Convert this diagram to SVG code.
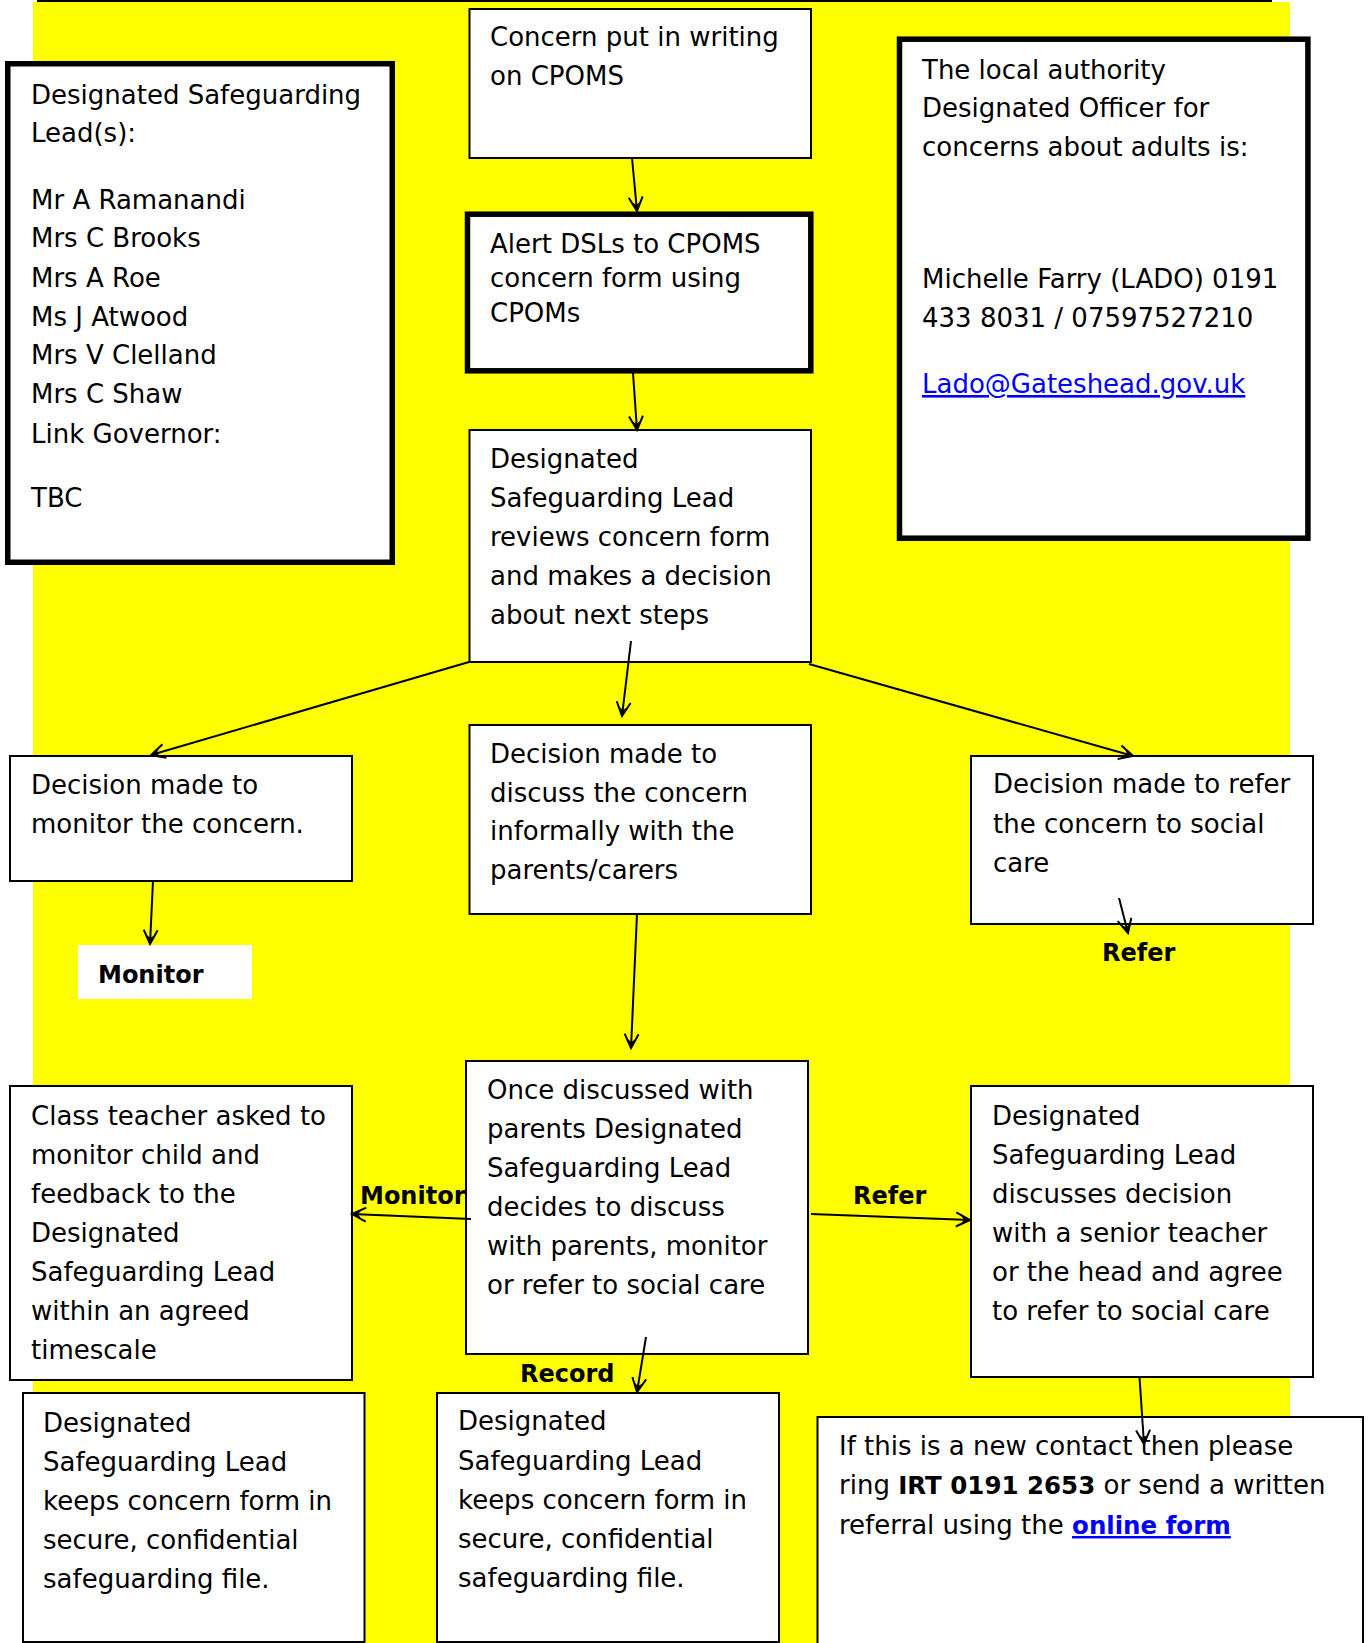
<svg xmlns="http://www.w3.org/2000/svg" width="1368" height="1643" viewBox="0 0 1368 1643">
<style>
  text { font-family: "DejaVu Sans", "Liberation Sans", sans-serif; font-size: 26px; fill: #000; }
  .box { fill: #fff; stroke: #000; stroke-width: 2; }
  .thick { fill: #fff; stroke: #000; stroke-width: 5.5; }
  .lbl { font-weight: bold; font-size: 24px; }
  .b { font-weight: bold; font-size: 24.5px; }
  .link { fill: #0000ff; text-decoration: underline; }
  .conn line { stroke: #000; stroke-width: 2; marker-end: url(#arr); }
</style>
<defs>
  <marker id="arr" markerUnits="userSpaceOnUse" viewBox="-16 -9 18 18" refX="0" refY="0" markerWidth="18" markerHeight="18" orient="auto">
    <path d="M-14,-7 L0,0 L-14,7" fill="none" stroke="#000" stroke-width="2"/>
    <path d="M0,0 L-9,-4 L-6,0 L-9,4 Z" fill="#000"/>
  </marker>
</defs>

<rect x="0" y="0" width="1368" height="1643" fill="#fff"/>
<rect x="33" y="2" width="1257" height="1641" fill="#ffff00"/>
<line x1="37" y1="1" x2="1272" y2="1" stroke="#000" stroke-width="2"/>

<g id="dsl-list">
  <rect class="thick" x="7.75" y="63.75" width="384.5" height="498.5"/>
  <text x="31" y="104">Designated Safeguarding</text>
  <text x="31" y="142">Lead(s):</text>
  <text x="31" y="209">Mr A Ramanandi</text>
  <text x="31" y="247">Mrs C Brooks</text>
  <text x="31" y="287">Mrs A Roe</text>
  <text x="31" y="326">Ms J Atwood</text>
  <text x="31" y="364">Mrs V Clelland</text>
  <text x="31" y="403">Mrs C Shaw</text>
  <text x="31" y="443">Link Governor:</text>
  <text x="31" y="507">TBC</text>
</g>

<g id="lado">
  <rect class="thick" x="899.5" y="39.2" width="408.4" height="499"/>
  <text x="922" y="79">The local authority</text>
  <text x="922" y="117">Designated Officer for</text>
  <text x="922" y="156">concerns about adults is:</text>
  <text x="922" y="288">Michelle Farry (LADO) 0191</text>
  <text x="922" y="327">433 8031 / 07597527210</text>
  <text x="922" y="393" class="link">Lado@Gateshead.gov.uk</text>
</g>

<g id="concern-writing">
  <rect class="box" x="469.5" y="9" width="341.5" height="149"/>
  <text x="490" y="46">Concern put in writing</text>
  <text x="490" y="85">on CPOMS</text>
</g>

<g id="alert-dsls">
  <rect class="thick" x="467.5" y="214.2" width="343.3" height="156.6"/>
  <text x="490" y="253">Alert DSLs to CPOMS</text>
  <text x="490" y="287">concern form using</text>
  <text x="490" y="322">CPOMs</text>
</g>

<g id="dsl-reviews">
  <rect class="box" x="469.5" y="430" width="341.5" height="232"/>
  <text x="490" y="468">Designated</text>
  <text x="490" y="507">Safeguarding Lead</text>
  <text x="490" y="546">reviews concern form</text>
  <text x="490" y="585">and makes a decision</text>
  <text x="490" y="624">about next steps</text>
</g>

<g id="decision-monitor">
  <rect class="box" x="10" y="756" width="342" height="125"/>
  <text x="31" y="794">Decision made to</text>
  <text x="31" y="833">monitor the concern.</text>
</g>

<g id="monitor-label">
  <rect x="78" y="945" width="174" height="54" fill="#fff"/>
  <text class="lbl" x="98" y="983">Monitor</text>
</g>

<g id="decision-discuss">
  <rect class="box" x="469.5" y="725" width="341.5" height="189"/>
  <text x="490" y="763">Decision made to</text>
  <text x="490" y="802">discuss the concern</text>
  <text x="490" y="840">informally with the</text>
  <text x="490" y="879">parents/carers</text>
</g>

<g id="decision-refer">
  <rect class="box" x="971" y="756" width="342" height="168"/>
  <text x="993" y="793">Decision made to refer</text>
  <text x="993" y="833">the concern to social</text>
  <text x="993" y="872">care</text>
</g>

<g id="refer-label">
  <text class="lbl" x="1102" y="961">Refer</text>
</g>

<g id="once-discussed">
  <rect class="box" x="466" y="1061" width="342" height="293"/>
  <text x="487" y="1099">Once discussed with</text>
  <text x="487" y="1138">parents Designated</text>
  <text x="487" y="1177">Safeguarding Lead</text>
  <text x="487" y="1216">decides to discuss</text>
  <text x="487" y="1255">with parents, monitor</text>
  <text x="487" y="1294">or refer to social care</text>
</g>

<g id="class-teacher">
  <rect class="box" x="10" y="1086" width="342" height="294"/>
  <text x="31" y="1125">Class teacher asked to</text>
  <text x="31" y="1164">monitor child and</text>
  <text x="31" y="1203">feedback to the</text>
  <text x="31" y="1242">Designated</text>
  <text x="31" y="1281">Safeguarding Lead</text>
  <text x="31" y="1320">within an agreed</text>
  <text x="31" y="1359">timescale</text>
</g>

<g id="monitor-label-2">
  <text class="lbl" x="360" y="1204">Monitor</text>
</g>

<g id="refer-label-2">
  <text class="lbl" x="853" y="1204">Refer</text>
</g>

<g id="dsl-discusses">
  <rect class="box" x="971" y="1086" width="342" height="291"/>
  <text x="992" y="1125">Designated</text>
  <text x="992" y="1164">Safeguarding Lead</text>
  <text x="992" y="1203">discusses decision</text>
  <text x="992" y="1242">with a senior teacher</text>
  <text x="992" y="1281">or the head and agree</text>
  <text x="992" y="1320">to refer to social care</text>
</g>

<g id="record-label">
  <text class="lbl" x="520" y="1382">Record</text>
</g>

<g id="keeps-form-left">
  <rect class="box" x="23" y="1393" width="341.5" height="249"/>
  <text x="43" y="1432">Designated</text>
  <text x="43" y="1471">Safeguarding Lead</text>
  <text x="43" y="1510">keeps concern form in</text>
  <text x="43" y="1549">secure, confidential</text>
  <text x="43" y="1588">safeguarding file.</text>
</g>

<g id="keeps-form-middle">
  <rect class="box" x="437" y="1393" width="342" height="249"/>
  <text x="458" y="1430">Designated</text>
  <text x="458" y="1470">Safeguarding Lead</text>
  <text x="458" y="1509">keeps concern form in</text>
  <text x="458" y="1548">secure, confidential</text>
  <text x="458" y="1587">safeguarding file.</text>
</g>

<g id="new-contact">
  <rect class="box" x="817.5" y="1417" width="545.5" height="240"/>
  <text x="839" y="1455">If this is a new contact then please</text>
  <text x="839" y="1494">ring <tspan class="b">IRT 0191 2653</tspan> or send a written</text>
  <text x="839" y="1534">referral using the <tspan class="b link">online form</tspan></text>
</g>

<g id="connectors" class="conn">
  <line x1="632" y1="158" x2="637" y2="211"/>
  <line x1="633" y1="373" x2="637" y2="430"/>
  <line x1="469" y1="662" x2="151" y2="755"/>
  <line x1="631" y1="641" x2="622" y2="716"/>
  <line x1="809" y1="664" x2="1133" y2="756"/>
  <line x1="153" y1="881" x2="150" y2="944"/>
  <line x1="1119" y1="898" x2="1128" y2="933"/>
  <line x1="637" y1="914" x2="631" y2="1048"/>
  <line x1="471" y1="1219" x2="352" y2="1214"/>
  <line x1="811" y1="1214" x2="970" y2="1220"/>
  <line x1="1139.5" y1="1377" x2="1144" y2="1444"/>
  <line x1="646" y1="1337" x2="637" y2="1392"/>
</g>
</svg>
